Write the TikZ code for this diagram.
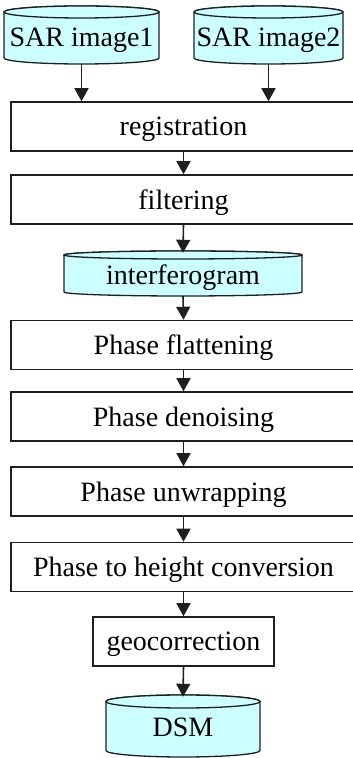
\documentclass[tikz,border=0pt]{standalone}
\usepackage{fontspec}
\setmainfont{Liberation Serif}
\usetikzlibrary{arrows.meta}

\definecolor{storecyan}{HTML}{CCFFFF}
\definecolor{linegray}{HTML}{1F1F1F}

\tikzset{
  stepbox/.style={draw=linegray, line width=1.5pt, fill=white, inner sep=0pt,
    minimum width=345pt, minimum height=49pt, text depth=0pt,
    font=\fontsize{28}{31}\selectfont},
  storetext/.style={inner sep=0pt, text depth=0pt, font=\fontsize{28}{31}\selectfont},
  store/.style={draw=linegray, line width=1.3pt, fill=storecyan},
  flow/.style={draw=linegray, line width=1.6pt, -{Triangle[width=14pt,length=13pt]}}
}

\begin{document}
\begin{tikzpicture}[x=1pt,y=1pt]
          \useasboundingbox (0,0) rectangle (353,758);

          % data stores
          \draw[store] (4,746) -- (4,700) arc (180:360:77.5 and 6) -- (159,746) arc (0:180:77.5 and 6);
          \draw[store] (81.5,746) ellipse (77.5 and 6);
          \node[storetext, minimum width=155pt, minimum height=54pt] (sar1) at (81.5,721) {SAR image1};

          \draw[store] (194,746) -- (194,700) arc (180:360:74.5 and 6) -- (343,746) arc (0:180:74.5 and 6);
          \draw[store] (268.5,746) ellipse (74.5 and 6);
          \node[storetext, minimum width=149pt, minimum height=54pt] (sar2) at (268.5,721) {SAR image2};

          \draw[store] (64,503) -- (64,466) arc (180:360:119 and 4) -- (302,503) arc (0:180:119 and 4);
          \draw[store] (183,503) ellipse (119 and 4);
          \node[storetext, minimum width=238pt, minimum height=43pt] (ifg) at (183,483.5) {interferogram};

          \draw[store] (106,56.5) -- (106,7.5) arc (180:360:77 and 6.5) -- (260,56.5) arc (0:180:77 and 6.5);
          \draw[store] (183,56.5) ellipse (77 and 6.5);
          \node[storetext, minimum width=154pt, minimum height=60pt] (dsm) at (183,31) {DSM};

          % processing steps
          \node[stepbox] (reg) at (183.5,631.5) {registration};
          \node[stepbox] (filt) at (183.5,558.5) {filtering};
          \node[stepbox] (flat) at (183.5,413) {Phase flattening};
          \node[stepbox] (deno) at (183.5,341.5) {Phase denoising};
          \node[stepbox] (unwr) at (183.5,266.5) {Phase unwrapping};
          \node[stepbox] (conv) at (183.5,191) {Phase to height conversion};
          \node[stepbox, minimum width=181pt] (geo) at (183.5,116.5) {geocorrection};

          % arrows
          \draw[flow] (sar1.south) -- (sar1.south |- reg.north);
          \draw[flow] (sar2.south) -- (sar2.south |- reg.north);
          \draw[flow] (reg) -- (filt);
          \draw[flow] (filt.south) -- (ifg.north);
          \draw[flow] (ifg.south) -- (flat.north);
          \draw[flow] (flat) -- (deno);
          \draw[flow] (deno) -- (unwr);
          \draw[flow] (unwr) -- (conv);
          \draw[flow] (conv.south) -- (conv.south |- geo.north);
          \draw[flow] (geo.south) -- (dsm.north);
        \end{tikzpicture}
\end{document}
